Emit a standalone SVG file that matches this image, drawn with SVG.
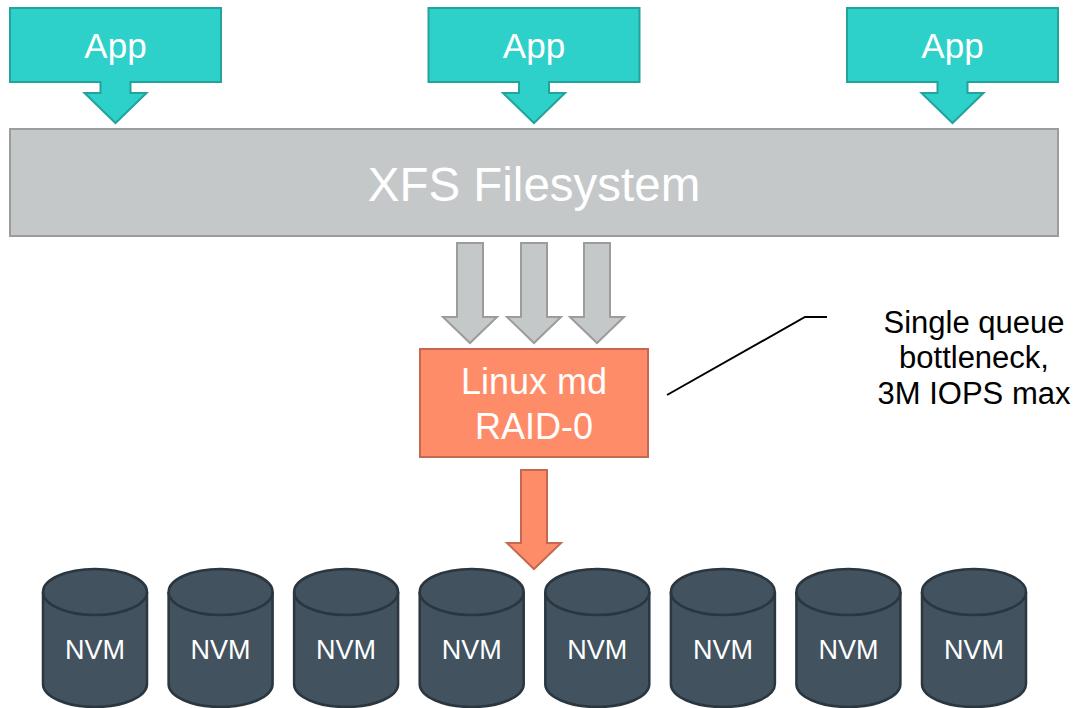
<svg xmlns="http://www.w3.org/2000/svg" width="1079" height="708" viewBox="0 0 1079 708">
  <style>
    .app { fill: #2DD1C9; stroke: #22A39C; stroke-width: 2; }
    .gray { fill: #C5C8C9; stroke: #9C9C9C; stroke-width: 2; }
    .orange { fill: #FF8C69; stroke: #C4694F; stroke-width: 2; }
    .nvm { fill: #42535F; stroke: #2A3640; stroke-width: 2.5; }
    .wt { fill: #FFFFFF; font-family: "Liberation Sans", Arial, sans-serif; text-anchor: middle; }
    .bt { fill: #000000; font-family: "Liberation Sans", Arial, sans-serif; text-anchor: middle; font-size: 31px; }
  </style>
  <defs>
    <path id="appShape" d="M-105.5,8 H105.5 V82 H15 V93 H31 L0,123 L-31,93 H-15 V82 H-105.5 Z"/>
    <path id="grayArrow" d="M-13,243 H13 V317 H27 L0,343 L-27,317 H-13 Z"/>
    <g id="cyl">
      <path d="M0,592 A52,23 0 0 1 104,592 V684 A52,23 0 0 1 0,684 Z"/>
      <path d="M0,592 A52,23 0 0 0 104,592" fill="none"/>
    </g>
  </defs>
  <rect width="1079" height="708" fill="#FFFFFF"/>

  <g id="app1">
    <use href="#appShape" class="app" transform="translate(115.5,0)"/>
    <text class="wt" x="115.5" y="58" font-size="35">App</text>
  </g>
  <g id="app2">
    <use href="#appShape" class="app" transform="translate(534,0)"/>
    <text class="wt" x="534" y="58" font-size="35">App</text>
  </g>
  <g id="app3">
    <use href="#appShape" class="app" transform="translate(952.5,0)"/>
    <text class="wt" x="952.5" y="58" font-size="35">App</text>
  </g>

  <g id="xfs">
    <rect x="10" y="129" width="1048" height="107" class="gray"/>
    <text class="wt" x="534" y="201" font-size="47.5">XFS Filesystem</text>
  </g>

  <g id="connectors">
    <use href="#grayArrow" class="gray" transform="translate(470,0)"/>
    <use href="#grayArrow" class="gray" transform="translate(534,0)"/>
    <use href="#grayArrow" class="gray" transform="translate(597,0)"/>
    <path class="orange" d="M521,470 H547 V543 H561 L534,569 L507,543 H521 Z"/>
    <polyline points="667,395 805,317 827,317" fill="none" stroke="#000000" stroke-width="2"/>
  </g>

  <g id="raid">
    <rect x="420" y="349" width="228" height="108" class="orange"/>
    <text class="wt" x="534" y="394" font-size="36">Linux md</text>
    <text class="wt" x="534" y="439" font-size="36">RAID-0</text>
  </g>

  <g id="note">
    <text class="bt" x="974" y="333">Single queue</text>
    <text class="bt" x="974" y="368">bottleneck,</text>
    <text class="bt" x="974" y="404">3M IOPS max</text>
  </g>

  <g id="nvm1"><use href="#cyl" class="nvm" transform="translate(43,0)"/><text class="wt" x="95" y="659" font-size="27">NVM</text></g>
  <g id="nvm2"><use href="#cyl" class="nvm" transform="translate(168.6,0)"/><text class="wt" x="220.6" y="659" font-size="27">NVM</text></g>
  <g id="nvm3"><use href="#cyl" class="nvm" transform="translate(294.1,0)"/><text class="wt" x="346.1" y="659" font-size="27">NVM</text></g>
  <g id="nvm4"><use href="#cyl" class="nvm" transform="translate(419.7,0)"/><text class="wt" x="471.7" y="659" font-size="27">NVM</text></g>
  <g id="nvm5"><use href="#cyl" class="nvm" transform="translate(545.3,0)"/><text class="wt" x="597.3" y="659" font-size="27">NVM</text></g>
  <g id="nvm6"><use href="#cyl" class="nvm" transform="translate(670.9,0)"/><text class="wt" x="722.9" y="659" font-size="27">NVM</text></g>
  <g id="nvm7"><use href="#cyl" class="nvm" transform="translate(796.4,0)"/><text class="wt" x="848.4" y="659" font-size="27">NVM</text></g>
  <g id="nvm8"><use href="#cyl" class="nvm" transform="translate(922,0)"/><text class="wt" x="974" y="659" font-size="27">NVM</text></g>
</svg>
